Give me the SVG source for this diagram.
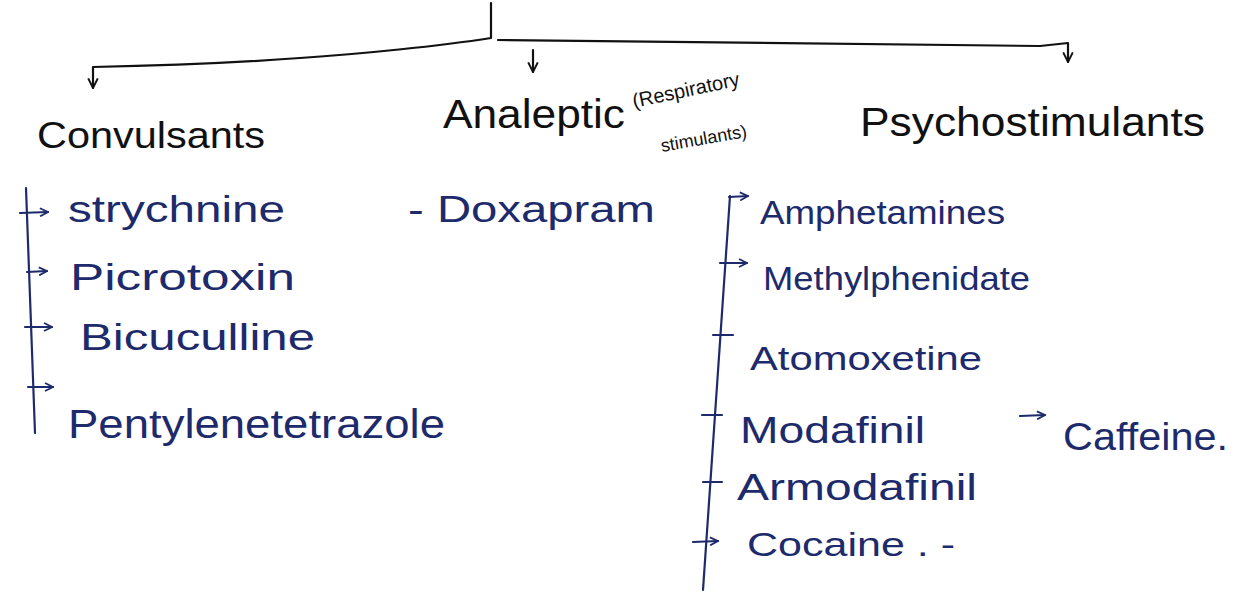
<svg xmlns="http://www.w3.org/2000/svg" width="1236" height="592" viewBox="0 0 1236 592">
<defs>
<marker id="ahk" viewBox="0 0 10 10" refX="9" refY="5" markerWidth="12" markerHeight="12" orient="auto" markerUnits="userSpaceOnUse">
<path d="M1,1 L9,5 L1,9" fill="none" stroke="#111" stroke-width="1.6"/>
</marker>
<marker id="ahb" viewBox="0 0 10 10" refX="9" refY="5" markerWidth="10" markerHeight="10" orient="auto" markerUnits="userSpaceOnUse">
<path d="M1,1 L9,5 L1,9" fill="none" stroke="#1d2a6b" stroke-width="1.8"/>
</marker>
</defs>
<style>
.hd{font-family:"Liberation Sans",Arial,sans-serif;fill:#111;}
.it{font-family:"Liberation Sans",Arial,sans-serif;fill:#1d2a6b;}
.tk{fill:none;stroke:#111;stroke-width:2.2;stroke-linecap:round;stroke-linejoin:round;}
.tb{fill:none;stroke:#1d2a6b;stroke-width:2.2;stroke-linecap:round;stroke-linejoin:round;}
</style>
<rect width="1236" height="592" fill="#fff"/>
<g id="connectors">
<path class="tk" d="M491,3 L491,38 C440,46 360,54 300,58 C220,64 150,66 93,67 L93,88" marker-end="url(#ahk)"/>
<path class="tk" d="M498,40 L1040,46 L1068,43 L1068,62" marker-end="url(#ahk)"/>
<path class="tk" d="M533,50 L533,72" marker-end="url(#ahk)"/>
<path class="tb" d="M26,188 L35,433"/>
<path class="tb" d="M20,213 L48,212" marker-end="url(#ahb)"/>
<path class="tb" d="M27,272 L47,271" marker-end="url(#ahb)"/>
<path class="tb" d="M25,327 L52,327" marker-end="url(#ahb)"/>
<path class="tb" d="M28,387 L53,387" marker-end="url(#ahb)"/>
<path class="tb" d="M730,196 L703,590"/>
<path class="tb" d="M729,197 L748,196" marker-end="url(#ahb)"/>
<path class="tb" d="M720,263 L747,263" marker-end="url(#ahb)"/>
<path class="tb" d="M713,335 L733,335"/>
<path class="tb" d="M702,415 L722,415"/>
<path class="tb" d="M703,482 L722,482"/>
<path class="tb" d="M693,542 L718,541" marker-end="url(#ahb)"/>
<path class="tb" d="M1020,416 L1045,415" marker-end="url(#ahb)"/>
</g>
<g id="convulsants"><text class="hd" x="37" y="148" font-size="36" textLength="228" lengthAdjust="spacingAndGlyphs">Convulsants</text></g>
<g id="analeptic"><text class="hd" x="443" y="128" font-size="40" textLength="182" lengthAdjust="spacingAndGlyphs">Analeptic</text>
<text class="hd" font-size="20" transform="translate(634,108) rotate(-12)">(Respiratory</text>
<text class="hd" font-size="18" transform="translate(662,152) rotate(-10)">stimulants)</text></g>
<g id="psychostimulants"><text class="hd" x="860" y="136" font-size="40" textLength="345" lengthAdjust="spacingAndGlyphs">Psychostimulants</text></g>
<g id="strychnine"><text class="it" x="68" y="222" font-size="36" textLength="217" lengthAdjust="spacingAndGlyphs">strychnine</text></g>
<g id="picrotoxin"><text class="it" x="70" y="290" font-size="36" textLength="225" lengthAdjust="spacingAndGlyphs">Picrotoxin</text></g>
<g id="bicuculline"><text class="it" x="80" y="350" font-size="36" textLength="235" lengthAdjust="spacingAndGlyphs">Bicuculline</text></g>
<g id="pentylenetetrazole"><text class="it" x="68" y="438" font-size="40" textLength="377" lengthAdjust="spacingAndGlyphs">Pentylenetetrazole</text></g>
<g id="doxapram"><text class="it" x="408" y="222" font-size="36" textLength="247" lengthAdjust="spacingAndGlyphs">- Doxapram</text></g>
<g id="amphetamines"><text class="it" x="760" y="224" font-size="34" textLength="245" lengthAdjust="spacingAndGlyphs">Amphetamines</text></g>
<g id="methylphenidate"><text class="it" x="763" y="290" font-size="34" textLength="267" lengthAdjust="spacingAndGlyphs">Methylphenidate</text></g>
<g id="atomoxetine"><text class="it" x="750" y="370" font-size="34" textLength="232" lengthAdjust="spacingAndGlyphs">Atomoxetine</text></g>
<g id="modafinil"><text class="it" x="740" y="443" font-size="36" textLength="185" lengthAdjust="spacingAndGlyphs">Modafinil</text></g>
<g id="armodafinil"><text class="it" x="737" y="500" font-size="36" textLength="240" lengthAdjust="spacingAndGlyphs">Armodafinil</text></g>
<g id="cocaine"><text class="it" x="747" y="556" font-size="34" textLength="208" lengthAdjust="spacingAndGlyphs">Cocaine . -</text></g>
<g id="caffeine"><text class="it" x="1063" y="450" font-size="38" textLength="165" lengthAdjust="spacingAndGlyphs">Caffeine.</text></g>
</svg>
